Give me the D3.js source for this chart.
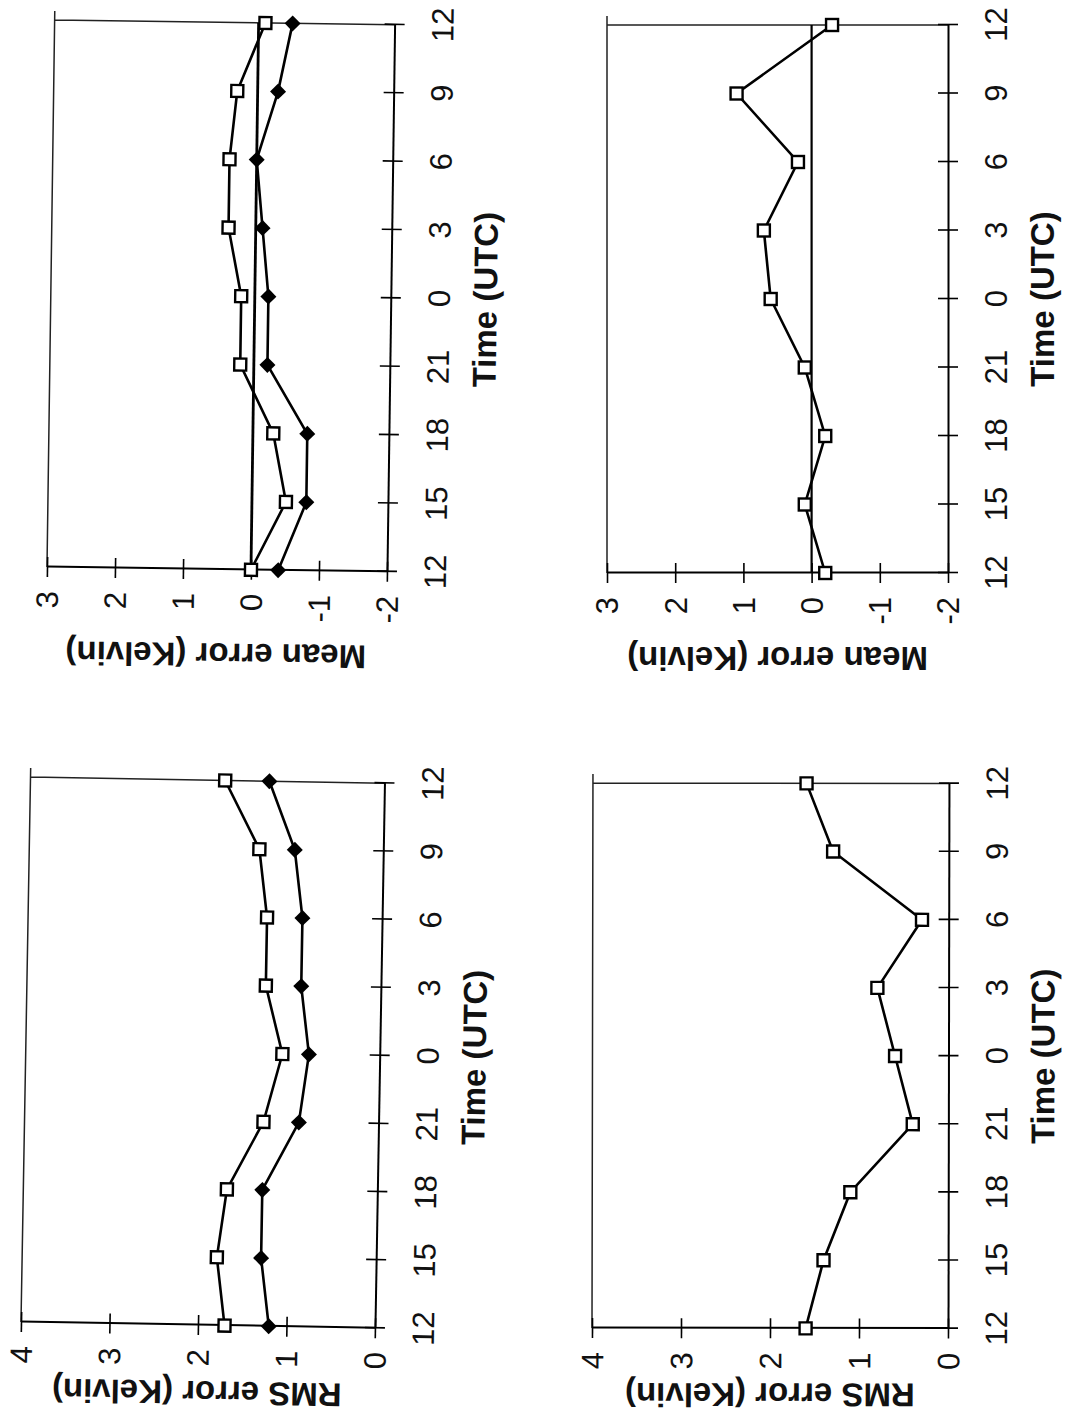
<!DOCTYPE html>
<html>
<head>
<meta charset="utf-8">
<script src="https://cdn.jsdelivr.net/npm/d3@7"></script>
<style>
  body { margin: 0; background: #fff; }
  svg { display: block; }
  text { font-family: "Liberation Sans", Arial, sans-serif; fill: #111; }
</style>
</head>
<body>
<svg id="fig" width="1075" height="1421"></svg>
<script>
// hours elapsed since 12 UTC, and the label printed at each tick
var hours = [0, 3, 6, 9, 12, 15, 18, 21, 24];
var timeLabels = ["12", "15", "18", "21", "0", "3", "6", "9", "12"];
var meanTicks = [3, 2, 1, 0, -1, -2];
var rmsTicks = [4, 3, 2, 1, 0];

// mean error (K), two series
var meanA_open   = [0.0, -0.5, -0.3, 0.2, 0.2, 0.4, 0.4, 0.3, -0.1];
var meanA_filled = [-0.4, -0.8, -0.8, -0.2, -0.2, -0.1, 0.0, -0.3, -0.5];
// mean error (K), one series
var meanB_open   = [-0.2, 0.1, -0.2, 0.1, 0.6, 0.7, 0.2, 1.1, -0.3];
// rms error (K), two series
var rmsC_open    = [1.7, 1.8, 1.7, 1.3, 1.1, 1.3, 1.3, 1.4, 1.8];
var rmsC_filled  = [1.2, 1.3, 1.3, 0.9, 0.8, 0.9, 0.9, 1.0, 1.3];
// rms error (K), one series
var rmsD_open    = [1.6, 1.4, 1.1, 0.4, 0.6, 0.8, 0.3, 1.3, 1.6];

var svg = d3.select("#fig");

// the page is printed sideways, so each panel is drawn normally then turned -90deg
var panels = [
  { tx: 47,  ty: 567,  w: 547, h: 340, skew: 0.8, ticks: meanTicks, zero: 2.8,
    title: "Mean error (Kelvin)", titleOff: -74, open: meanA_open, filled: meanA_filled },
  { tx: 607, ty: 573,  w: 548, h: 341, skew: 0,   ticks: meanTicks, zero: 2.2,
    title: "Mean error (Kelvin)", titleOff: -74, open: meanB_open },
  { tx: 21,  ty: 1322, w: 545, h: 354, skew: 1.0, ticks: rmsTicks,
    title: "RMS error (Kelvin)", titleOff: -56, open: rmsC_open, filled: rmsC_filled },
  { tx: 592, ty: 1328, w: 545, h: 356, skew: 0.1, ticks: rmsTicks,
    title: "RMS error (Kelvin)", titleOff: -55, open: rmsD_open }
];

panels.forEach(drawPanel);

function drawPanel(p) {
  var g = svg.append("g")
    .attr("transform", "translate(" + p.tx + "," + p.ty + ") rotate(" + (-90 + p.skew) + ")");

  var x = d3.scaleLinear().domain([0, 24]).range([0, p.w]);
  var y = d3.scaleLinear().domain([d3.min(p.ticks), d3.max(p.ticks)]).range([p.h, 0]);

  // frame (top and right sides)
  g.append("path")
    .attr("d", "M0,0H" + (p.w + 9) + "M" + p.w + ",0V" + p.h)
    .attr("fill", "none").attr("stroke", "#222").attr("stroke-width", 1.5);

  if (p.zero) {
    g.append("line")
      .attr("x1", 0).attr("x2", p.w)
      .attr("y1", y(0)).attr("y2", y(0))
      .attr("stroke", "#000").attr("stroke-width", p.zero);
  }

  // time axis
  var xa = g.append("g")
    .attr("transform", "translate(0," + p.h + ")")
    .call(d3.axisBottom(x).tickValues(hours)
      .tickFormat(function(d, i) { return timeLabels[i]; })
      .tickSize(9).tickSizeOuter(0));
  xa.select(".domain").attr("stroke", "#000").attr("stroke-width", 2);
  xa.selectAll(".tick line").attr("y1", -10).attr("y2", 10).attr("stroke", "#000").attr("stroke-width", 1.6);
  xa.selectAll(".tick text")
    .attr("y", 59).attr("dy", null)
    .attr("font-size", 31).attr("font-family", null);

  // value axis
  var ya = g.append("g")
    .call(d3.axisLeft(y).tickValues(p.ticks)
      .tickFormat(function(d) { return String(d); })
      .tickSize(9).tickSizeOuter(0));
  ya.select(".domain").attr("stroke", "#000").attr("stroke-width", 2);
  ya.selectAll(".tick line").attr("x1", 10).attr("x2", -10).attr("stroke", "#000").attr("stroke-width", 1.6);
  ya.selectAll(".tick text")
    .attr("x", -24).attr("dy", "0.35em")
    .attr("font-size", 31).attr("font-family", null);

  // axis titles
  g.append("text")
    .attr("x", p.w / 2).attr("y", p.h + 106)
    .attr("text-anchor", "middle")
    .attr("font-size", 33).attr("font-weight", "bold")
    .text("Time (UTC)");
  g.append("text")
    .attr("transform", "translate(" + p.titleOff + "," + (p.h / 2) + ") rotate(-90)")
    .attr("text-anchor", "middle")
    .attr("font-size", 33).attr("font-weight", "bold")
    .text(p.title);

  var line = d3.line()
    .x(function(d, i) { return x(hours[i]); })
    .y(function(d) { return y(d); });

  if (p.filled) {
    g.append("path").attr("d", line(p.filled))
      .attr("fill", "none").attr("stroke", "#000").attr("stroke-width", 2.6);
  }
  g.append("path").attr("d", line(p.open))
    .attr("fill", "none").attr("stroke", "#000").attr("stroke-width", 2.6);

  if (p.filled) {
    g.selectAll(".dia").data(p.filled).enter().append("path")
      .attr("class", "dia")
      .attr("transform", function(d, i) { return "translate(" + x(hours[i]) + "," + y(d) + ")"; })
      .attr("d", "M0,-8L8,0L0,8L-8,0Z")
      .attr("fill", "#000");
  }
  g.selectAll(".sq").data(p.open).enter().append("rect")
    .attr("class", "sq")
    .attr("x", function(d, i) { return x(hours[i]) - 6; })
    .attr("y", function(d) { return y(d) - 6; })
    .attr("width", 12).attr("height", 12)
    .attr("fill", "#fff").attr("stroke", "#000").attr("stroke-width", 2.4);
}
</script>
</body>
</html>
